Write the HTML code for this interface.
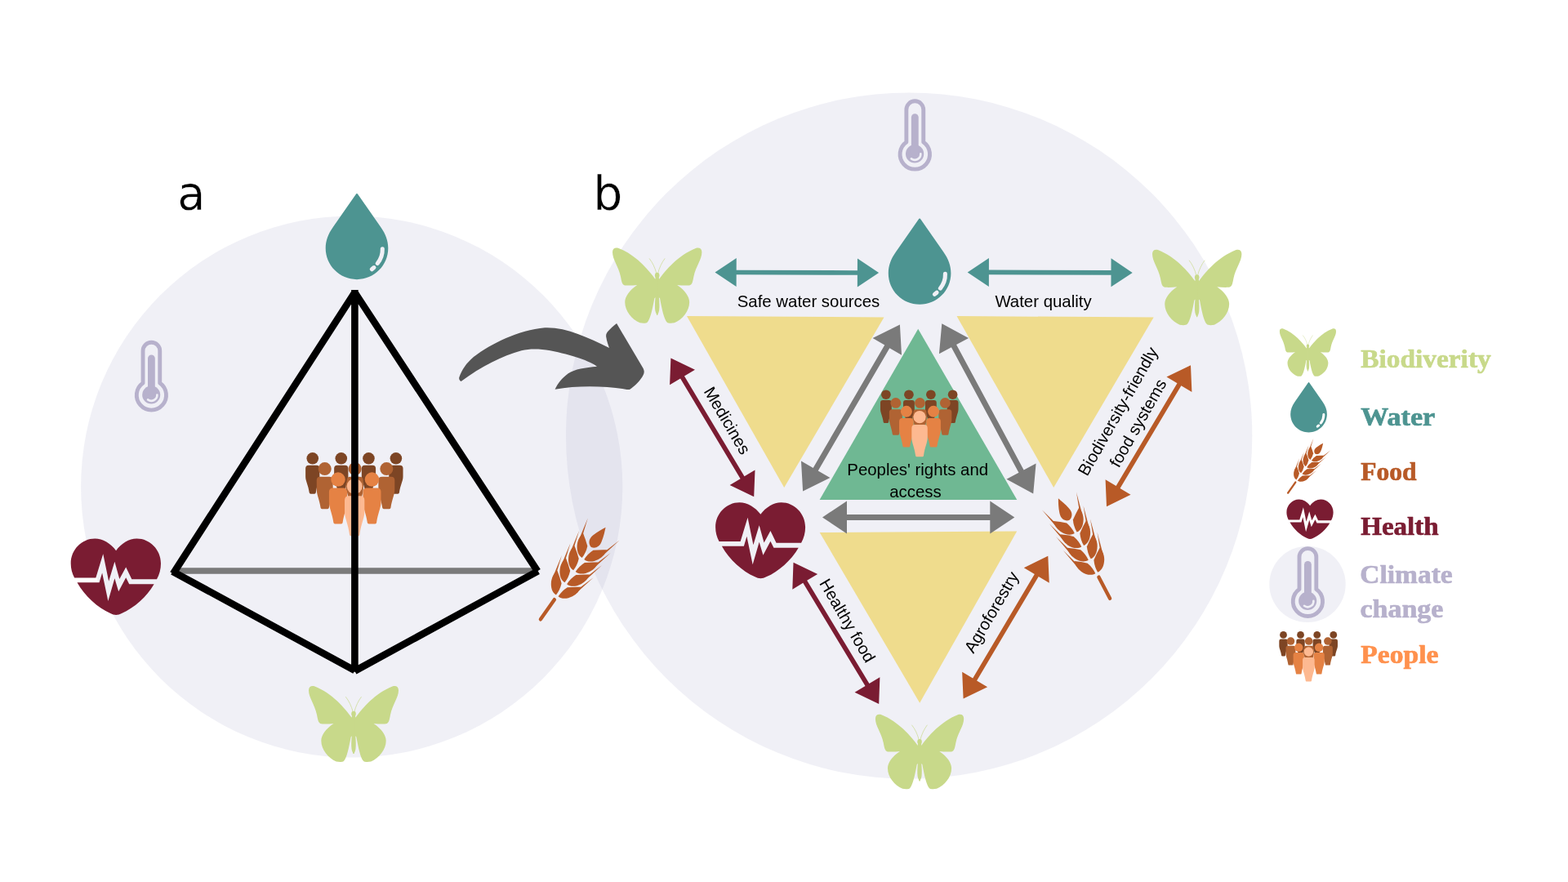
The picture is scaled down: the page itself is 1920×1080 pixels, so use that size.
<!DOCTYPE html>
<html lang="en"><head><meta charset="utf-8"><title>Nexus diagram</title>
<style>html,body{margin:0;padding:0;background:#fff;width:1920px;height:1080px;overflow:hidden}svg{display:block;will-change:transform}</style></head><body>
<svg width="1920" height="1080" viewBox="0 0 1920 1080">
<rect width="1920" height="1080" fill="#fff"/>
<circle cx="430.7" cy="596" r="331.6" fill="#b4b4d0" fill-opacity="0.2"/>
<circle cx="1113.15" cy="533.7" r="420.15" fill="#b4b4d0" fill-opacity="0.2"/>
<g transform="translate(217.2,257) scale(0.967,1)"><text x="0" y="0" style="text-rendering:geometricPrecision" font-family="'DejaVu Sans', sans-serif" font-size="57.5" fill="#000" stroke="#fff" stroke-width="0.45">a</text></g>
<g transform="translate(726.28,257) scale(0.98,1)"><text x="0" y="0" style="text-rendering:geometricPrecision" font-family="'DejaVu Sans', sans-serif" font-size="58" fill="#000" stroke="#fff" stroke-width="0.4">b</text></g>
<g transform="translate(398.7,237) scale(0.12044)"><path fill="#4d9491" d="M318,0 C322,0 326,4 330,10 L560,340 C610,410 636,480 636,555 C636,731 494,873 318,873 C142,873 0,731 0,555 C0,480 26,410 76,340 L306,10 C310,4 314,0 318,0 Z"/><path fill="none" stroke="#f0f0f6" stroke-width="42" stroke-linecap="round" d="M578,562 C580,620 560,670 528,710"/><path fill="none" stroke="#f0f0f6" stroke-width="42" stroke-linecap="round" d="M492,752 L470,770"/></g>
<g transform="translate(164.87,416.7) scale(0.10116)"><path fill="none" stroke="#b7b1cc" stroke-width="48" stroke-linejoin="round" d="M100.5,518 L100.5,128 A102.5,102.5 0 0 1 305.5,128 L305.5,518 A179,179 0 1 1 100.5,518 Z"/><circle cx="201" cy="660" r="109" fill="#b7b1cc"/><path fill="none" stroke="#b7b1cc" stroke-width="87" stroke-linecap="round" d="M203,220 L203,640"/><path fill="none" stroke="#f0f0f6" stroke-width="26" stroke-linecap="round" d="M272,660 A70,70 0 0 1 160,718"/></g>
<g transform="translate(374,554) scale(0.12158) translate(-133,-128)"><path fill="#7d4524" d="M134,289.24 Q134,258 165.24,258 L244.76,258 Q276,258 276,289.24 L276,372.8 C276,415.85 247.9,458.9 238,533 Q236,545 224,545 L186,545 Q174,545 172,533 C162.1,458.9 134,415.85 134,372.8 Z"/><circle cx="205" cy="188" r="60" fill="#7d4524"/><path fill="#7d4524" d="M422,289.24 Q422,258 453.24,258 L532.76,258 Q564,258 564,289.24 L564,372.8 C564,415.85 535.9,458.9 526,533 Q524,545 512,545 L474,545 Q462,545 460,533 C450.1,458.9 422,415.85 422,372.8 Z"/><circle cx="493" cy="188" r="60" fill="#7d4524"/><path fill="#7d4524" d="M699,289.24 Q699,258 730.24,258 L809.76,258 Q841,258 841,289.24 L841,372.8 C841,415.85 812.9,458.9 803,533 Q801,545 789,545 L751,545 Q739,545 737,533 C727.1,458.9 699,415.85 699,372.8 Z"/><circle cx="770" cy="188" r="60" fill="#7d4524"/><path fill="#7d4524" d="M974,289.24 Q974,258 1005.24,258 L1084.76,258 Q1116,258 1116,289.24 L1116,372.8 C1116,415.85 1087.9,458.9 1078,533 Q1076,545 1064,545 L1026,545 Q1014,545 1012,533 C1002.1,458.9 974,415.85 974,372.8 Z"/><circle cx="1045" cy="188" r="60" fill="#7d4524"/><path fill="#b06333" d="M246,408.08 Q246,372 282.08,372 L373.92,372 Q410,372 410,408.08 L410,502 C410,550.75 382.6,599.5 370,685 Q368,697 356,697 L300,697 Q288,697 286,685 C273.4,599.5 246,550.75 246,502 Z"/><circle cx="328" cy="293" r="66" fill="#b06333"/><path fill="#b06333" d="M550,408.08 Q550,372 586.08,372 L677.92,372 Q714,372 714,408.08 L714,502 C714,550.75 686.6,599.5 674,685 Q672,697 660,697 L604,697 Q592,697 590,685 C577.4,599.5 550,550.75 550,502 Z"/><circle cx="632" cy="293" r="66" fill="#b06333"/><path fill="#b06333" d="M868,408.08 Q868,372 904.08,372 L995.92,372 Q1032,372 1032,408.08 L1032,502 C1032,550.75 1004.6,599.5 992,685 Q990,697 978,697 L922,697 Q910,697 908,685 C895.4,599.5 868,550.75 868,502 Z"/><circle cx="950" cy="293" r="66" fill="#b06333"/><path fill="#e58244" d="M371,525.04 Q371,485 411.04,485 L512.96,485 Q553,485 553,525.04 L553,630.2 C553,684.65 521.8,739.1 508,836 Q506,848 494,848 L430,848 Q418,848 416,836 C402.2,739.1 371,684.65 371,630.2 Z"/><circle cx="462" cy="400" r="72" fill="#e58244"/><path fill="#e58244" d="M712,525.04 Q712,485 752.04,485 L853.96,485 Q894,485 894,525.04 L894,630.2 C894,684.65 862.8,739.1 849,836 Q847,848 835,848 L771,848 Q759,848 757,836 C743.2,739.1 712,684.65 712,630.2 Z"/><circle cx="803" cy="400" r="72" fill="#e58244"/><path fill="#fdb991" d="M528,609 Q528,565 572,565 L684,565 Q728,565 728,609 L728,727 C728,787.75 693,848.5 678,958 Q676,970 664,970 L592,970 Q580,970 578,958 C563,848.5 528,787.75 528,727 Z"/><circle cx="628" cy="470" r="90" fill="#b06333"/><circle cx="628" cy="470" r="78" fill="#fdb991"/></g>
<path d="M214,699 L657,699" stroke="#7a7a7a" stroke-width="7.5" fill="none"/>
<path d="M434.4,358 L211.9,702.6 M211.3,699.7 L434.4,821 M434.4,358 L658.2,699.3 M658.8,699.3 L434.4,821.6 M434.4,355 L434.4,822.8" stroke="#000" stroke-width="8.6" fill="none"/>
<g transform="translate(86.7,659.6) scale(0.11141) translate(-100,-137)" fill="#7a1c32"><path d="M140,567 L375,567 L455,305 L517,605 L582,390 L635,580 L706,450 L770,583 L1045,583 C1075,530 1090,470 1090,410 C1090,260 970,137 825,137 C740,137 655,190 597,268 C540,190 450,137 365,137 C220,137 100,260 100,410 C100,470 115,520 140,567 Z"/><path d="M170,618 L413,618 L445,512 L510,822 L582,573 L625,718 L706,565 L742,636 L1015,636 C935,775 795,898 660,957 C620,980 575,980 535,957 C395,893 255,770 170,618 Z"/></g>
<g transform="translate(660.8,760) rotate(35) scale(1,1)" fill="#b85a27"><path d="M0,-2 L0,-31.5" stroke="#b85a27" stroke-width="4.4" stroke-linecap="round" fill="none"/><path d="M-1.6,-37.4 C-7.16,-36.83 -12.5,-41.15 -15.82,-47.33 C-18.61,-52.66 -18.93,-58.38 -17.7,-62.8 Q-10.34,-57.91 -4.35,-52.94 Q-1.19,-45.35 -1.6,-37.4 Z"/><path d="M-16.96,-51.17 L-23.6,-81 L-17.39,-61.93 Z"/><path d="M1.6,-37.4 C7.16,-36.83 12.5,-41.15 15.82,-47.33 C18.61,-52.66 18.93,-58.38 17.7,-62.8 Q10.34,-57.91 4.35,-52.94 Q1.19,-45.35 1.6,-37.4 Z"/><path d="M16.96,-51.17 L23.6,-81 L17.39,-61.93 Z"/><path d="M-1.6,-55.85 C-7.16,-55.28 -12.5,-59.6 -15.82,-65.78 C-18.61,-71.11 -18.93,-76.83 -17.7,-81.25 Q-10.34,-76.36 -4.35,-71.39 Q-1.19,-63.8 -1.6,-55.85 Z"/><path d="M-16.96,-69.62 L-23.6,-99.45 L-17.39,-80.38 Z"/><path d="M1.6,-55.85 C7.16,-55.28 12.5,-59.6 15.82,-65.78 C18.61,-71.11 18.93,-76.83 17.7,-81.25 Q10.34,-76.36 4.35,-71.39 Q1.19,-63.8 1.6,-55.85 Z"/><path d="M16.96,-69.62 L23.6,-99.45 L17.39,-80.38 Z"/><path d="M-1.6,-74.3 C-7.16,-73.73 -12.5,-78.05 -15.82,-84.23 C-18.61,-89.56 -18.93,-95.28 -17.7,-99.7 Q-10.34,-94.81 -4.35,-89.84 Q-1.19,-82.25 -1.6,-74.3 Z"/><path d="M-16.96,-88.07 L-23.6,-117.9 L-17.39,-98.83 Z"/><path d="M1.6,-74.3 C7.16,-73.73 12.5,-78.05 15.82,-84.23 C18.61,-89.56 18.93,-95.28 17.7,-99.7 Q10.34,-94.81 4.35,-89.84 Q1.19,-82.25 1.6,-74.3 Z"/><path d="M16.96,-88.07 L23.6,-117.9 L17.39,-98.83 Z"/><path d="M-1.6,-92.75 C-7.16,-92.18 -12.5,-96.5 -15.82,-102.68 C-18.61,-108.01 -18.93,-113.73 -17.7,-118.15 Q-10.34,-113.26 -4.35,-108.29 Q-1.19,-100.7 -1.6,-92.75 Z"/><path d="M-16.96,-106.52 L-23.6,-136.35 L-17.39,-117.28 Z"/><path d="M1.6,-92.75 C7.16,-92.18 12.5,-96.5 15.82,-102.68 C18.61,-108.01 18.93,-113.73 17.7,-118.15 Q10.34,-113.26 4.35,-108.29 Q1.19,-100.7 1.6,-92.75 Z"/><path d="M16.96,-106.52 L23.6,-136.35 L17.39,-117.28 Z"/><path d="M0,-110 C-5,-111 -8.5,-116 -6.5,-123 C-4.5,-130 -2,-135 0.6,-140 C2.5,-135 5,-130 6.5,-123 C8.5,-116 5,-111 0,-110 Z"/></g>
<g transform="translate(379.01,840) scale(0.11179)" fill="#c8d98a"><path d="M478,345 L505,345 C575,250 715,80 913,3 C950,-5 975,10 975,48 C975,130 910,200 885,318 C872,390 865,416 823,416 C780,418 740,414 703,411 C790,470 838,540 838,600 C838,700 760,790 673,828 C640,835 603,835 590,820 C560,790 535,680 513,558 L503,548 C508,600 510,650 505,690 C500,715 490,735 483,743 L478,743 Z"/><g transform="translate(966,0) scale(-1,1)"><path d="M478,345 L505,345 C575,250 715,80 913,3 C950,-5 975,10 975,48 C975,130 910,200 885,318 C872,390 865,416 823,416 C780,418 740,414 703,411 C790,470 838,540 838,600 C838,700 760,790 673,828 C640,835 603,835 590,820 C560,790 535,680 513,558 L503,548 C508,600 510,650 505,690 C500,715 490,735 483,743 L478,743 Z"/></g><ellipse cx="483" cy="305" rx="25" ry="30"/><path d="M470,290 L496,290 L505,350 L461,350 Z"/><path d="M476,285 C460,220 430,160 398,121 M490,285 C506,220 536,160 566,121" fill="none" stroke="#c8d98a" stroke-width="6" stroke-linecap="round"/></g>
<g transform="translate(550,385) scale(0.130208)"><path fill="#555555" d="M112,630 C95,620 90,605 95,590 C120,520 160,460 230,400 C400,270 650,150 900,125 C1100,118 1300,215 1505,315 C1495,285 1482,250 1477,215 C1472,190 1480,175 1495,158 C1520,130 1545,108 1575,85 L1820,500 C1835,525 1838,545 1825,570 C1800,620 1750,670 1700,705 C1690,708 1670,706 1650,702 C1450,672 1200,668 995,705 C1020,650 1060,600 1120,555 C1180,515 1280,500 1390,490 C1330,440 1150,380 950,340 C850,322 760,320 680,340 C500,390 300,490 112,630 Z"/></g>
<g transform="translate(1099.62,121.2) scale(0.10185)"><path fill="none" stroke="#b7b1cc" stroke-width="48" stroke-linejoin="round" d="M100.5,518 L100.5,128 A102.5,102.5 0 0 1 305.5,128 L305.5,518 A179,179 0 1 1 100.5,518 Z"/><circle cx="201" cy="660" r="109" fill="#b7b1cc"/><path fill="none" stroke="#b7b1cc" stroke-width="87" stroke-linecap="round" d="M203,220 L203,640"/><path fill="none" stroke="#f0f0f6" stroke-width="26" stroke-linecap="round" d="M272,660 A70,70 0 0 1 160,718"/></g>
<g transform="translate(751,303.3) scale(0.11118)" fill="#c8d98a"><path d="M478,345 L505,345 C575,250 715,80 913,3 C950,-5 975,10 975,48 C975,130 910,200 885,318 C872,390 865,416 823,416 C780,418 740,414 703,411 C790,470 838,540 838,600 C838,700 760,790 673,828 C640,835 603,835 590,820 C560,790 535,680 513,558 L503,548 C508,600 510,650 505,690 C500,715 490,735 483,743 L478,743 Z"/><g transform="translate(966,0) scale(-1,1)"><path d="M478,345 L505,345 C575,250 715,80 913,3 C950,-5 975,10 975,48 C975,130 910,200 885,318 C872,390 865,416 823,416 C780,418 740,414 703,411 C790,470 838,540 838,600 C838,700 760,790 673,828 C640,835 603,835 590,820 C560,790 535,680 513,558 L503,548 C508,600 510,650 505,690 C500,715 490,735 483,743 L478,743 Z"/></g><ellipse cx="483" cy="305" rx="25" ry="30"/><path d="M470,290 L496,290 L505,350 L461,350 Z"/><path d="M476,285 C460,220 430,160 398,121 M490,285 C506,220 536,160 566,121" fill="none" stroke="#c8d98a" stroke-width="6" stroke-linecap="round"/></g>
<g transform="translate(1412,305.6) scale(0.11118)" fill="#c8d98a"><path d="M478,345 L505,345 C575,250 715,80 913,3 C950,-5 975,10 975,48 C975,130 910,200 885,318 C872,390 865,416 823,416 C780,418 740,414 703,411 C790,470 838,540 838,600 C838,700 760,790 673,828 C640,835 603,835 590,820 C560,790 535,680 513,558 L503,548 C508,600 510,650 505,690 C500,715 490,735 483,743 L478,743 Z"/><g transform="translate(966,0) scale(-1,1)"><path d="M478,345 L505,345 C575,250 715,80 913,3 C950,-5 975,10 975,48 C975,130 910,200 885,318 C872,390 865,416 823,416 C780,418 740,414 703,411 C790,470 838,540 838,600 C838,700 760,790 673,828 C640,835 603,835 590,820 C560,790 535,680 513,558 L503,548 C508,600 510,650 505,690 C500,715 490,735 483,743 L478,743 Z"/></g><ellipse cx="483" cy="305" rx="25" ry="30"/><path d="M470,290 L496,290 L505,350 L461,350 Z"/><path d="M476,285 C460,220 430,160 398,121 M490,285 C506,220 536,160 566,121" fill="none" stroke="#c8d98a" stroke-width="6" stroke-linecap="round"/></g>
<g transform="translate(1072.89,874.7) scale(0.11006)" fill="#c8d98a"><path d="M478,345 L505,345 C575,250 715,80 913,3 C950,-5 975,10 975,48 C975,130 910,200 885,318 C872,390 865,416 823,416 C780,418 740,414 703,411 C790,470 838,540 838,600 C838,700 760,790 673,828 C640,835 603,835 590,820 C560,790 535,680 513,558 L503,548 C508,600 510,650 505,690 C500,715 490,735 483,743 L478,743 Z"/><g transform="translate(966,0) scale(-1,1)"><path d="M478,345 L505,345 C575,250 715,80 913,3 C950,-5 975,10 975,48 C975,130 910,200 885,318 C872,390 865,416 823,416 C780,418 740,414 703,411 C790,470 838,540 838,600 C838,700 760,790 673,828 C640,835 603,835 590,820 C560,790 535,680 513,558 L503,548 C508,600 510,650 505,690 C500,715 490,735 483,743 L478,743 Z"/></g><ellipse cx="483" cy="305" rx="25" ry="30"/><path d="M470,290 L496,290 L505,350 L461,350 Z"/><path d="M476,285 C460,220 430,160 398,121 M490,285 C506,220 536,160 566,121" fill="none" stroke="#c8d98a" stroke-width="6" stroke-linecap="round"/></g>
<g transform="translate(1087.8,267.6) scale(0.12044)"><path fill="#4d9491" d="M318,0 C322,0 326,4 330,10 L560,340 C610,410 636,480 636,555 C636,731 494,873 318,873 C142,873 0,731 0,555 C0,480 26,410 76,340 L306,10 C310,4 314,0 318,0 Z"/><path fill="none" stroke="#f0f0f6" stroke-width="42" stroke-linecap="round" d="M578,562 C580,620 560,670 528,710"/><path fill="none" stroke="#f0f0f6" stroke-width="42" stroke-linecap="round" d="M492,752 L470,770"/></g>
<polygon fill="#4d9491" points="875.5,333.4 901.64,350.99 901.69,336.34 1049.89,336.86 1049.84,351.51 1076.1,334.1 1049.96,316.51 1049.91,331.16 901.71,330.64 901.76,315.99"/>
<polygon fill="#4d9491" points="1184.7,333.4 1210.86,350.96 1210.89,336.31 1360.49,336.69 1360.46,351.34 1386.7,333.9 1360.54,316.34 1360.51,330.99 1210.91,330.61 1210.94,315.96"/>
<text x="990" y="375.6" font-family="'Liberation Sans', sans-serif" font-size="20.4" font-weight="normal" fill="#000" text-anchor="middle">Safe water sources</text>
<text x="1277.5" y="375.6" font-family="'Liberation Sans', sans-serif" font-size="20.4" font-weight="normal" fill="#000" text-anchor="middle">Water quality</text>
<polygon fill="#efdc8d" points="841,387 1082.5,388.5 960.2,597"/>
<polygon fill="#efdc8d" points="1171.5,387 1412.7,388.5 1290.2,597"/>
<polygon fill="#efdc8d" points="1003.7,652 1245.2,650.4 1126.2,860.7"/>
<polygon fill="#6fb893" points="1124.2,402.7 1245.3,611.9 1003.6,611.9"/>
<g transform="translate(1077.9,477.4) scale(0.09726) translate(-133,-128)"><path fill="#7d4524" d="M134,289.24 Q134,258 165.24,258 L244.76,258 Q276,258 276,289.24 L276,372.8 C276,415.85 247.9,458.9 238,533 Q236,545 224,545 L186,545 Q174,545 172,533 C162.1,458.9 134,415.85 134,372.8 Z"/><circle cx="205" cy="188" r="60" fill="#7d4524"/><path fill="#7d4524" d="M422,289.24 Q422,258 453.24,258 L532.76,258 Q564,258 564,289.24 L564,372.8 C564,415.85 535.9,458.9 526,533 Q524,545 512,545 L474,545 Q462,545 460,533 C450.1,458.9 422,415.85 422,372.8 Z"/><circle cx="493" cy="188" r="60" fill="#7d4524"/><path fill="#7d4524" d="M699,289.24 Q699,258 730.24,258 L809.76,258 Q841,258 841,289.24 L841,372.8 C841,415.85 812.9,458.9 803,533 Q801,545 789,545 L751,545 Q739,545 737,533 C727.1,458.9 699,415.85 699,372.8 Z"/><circle cx="770" cy="188" r="60" fill="#7d4524"/><path fill="#7d4524" d="M974,289.24 Q974,258 1005.24,258 L1084.76,258 Q1116,258 1116,289.24 L1116,372.8 C1116,415.85 1087.9,458.9 1078,533 Q1076,545 1064,545 L1026,545 Q1014,545 1012,533 C1002.1,458.9 974,415.85 974,372.8 Z"/><circle cx="1045" cy="188" r="60" fill="#7d4524"/><path fill="#b06333" d="M246,408.08 Q246,372 282.08,372 L373.92,372 Q410,372 410,408.08 L410,502 C410,550.75 382.6,599.5 370,685 Q368,697 356,697 L300,697 Q288,697 286,685 C273.4,599.5 246,550.75 246,502 Z"/><circle cx="328" cy="293" r="66" fill="#b06333"/><path fill="#b06333" d="M550,408.08 Q550,372 586.08,372 L677.92,372 Q714,372 714,408.08 L714,502 C714,550.75 686.6,599.5 674,685 Q672,697 660,697 L604,697 Q592,697 590,685 C577.4,599.5 550,550.75 550,502 Z"/><circle cx="632" cy="293" r="66" fill="#b06333"/><path fill="#b06333" d="M868,408.08 Q868,372 904.08,372 L995.92,372 Q1032,372 1032,408.08 L1032,502 C1032,550.75 1004.6,599.5 992,685 Q990,697 978,697 L922,697 Q910,697 908,685 C895.4,599.5 868,550.75 868,502 Z"/><circle cx="950" cy="293" r="66" fill="#b06333"/><path fill="#e58244" d="M371,525.04 Q371,485 411.04,485 L512.96,485 Q553,485 553,525.04 L553,630.2 C553,684.65 521.8,739.1 508,836 Q506,848 494,848 L430,848 Q418,848 416,836 C402.2,739.1 371,684.65 371,630.2 Z"/><circle cx="462" cy="400" r="72" fill="#e58244"/><path fill="#e58244" d="M712,525.04 Q712,485 752.04,485 L853.96,485 Q894,485 894,525.04 L894,630.2 C894,684.65 862.8,739.1 849,836 Q847,848 835,848 L771,848 Q759,848 757,836 C743.2,739.1 712,684.65 712,630.2 Z"/><circle cx="803" cy="400" r="72" fill="#e58244"/><path fill="#fdb991" d="M528,609 Q528,565 572,565 L684,565 Q728,565 728,609 L728,727 C728,787.75 693,848.5 678,958 Q676,970 664,970 L592,970 Q580,970 578,958 C563,848.5 528,787.75 528,727 Z"/><circle cx="628" cy="470" r="90" fill="#b06333"/><circle cx="628" cy="470" r="78" fill="#fdb991"/></g>
<text x="1123.7" y="582.3" font-family="'Liberation Sans', sans-serif" font-size="20.4" font-weight="normal" fill="#000" text-anchor="middle">Peoples' rights and</text>
<text x="1121" y="609.2" font-family="'Liberation Sans', sans-serif" font-size="20.4" font-weight="normal" fill="#000" text-anchor="middle">access</text>
<polygon fill="#7a7a7a" points="1101.9,397.6 1068.58,414.07 1083.27,422.62 995.68,572.95 980.99,564.39 983.1,601.5 1016.42,585.03 1001.73,576.48 1089.32,426.15 1104.01,434.71"/>
<polygon fill="#7a7a7a" points="1153.3,396.3 1149.93,433.31 1164.9,425.26 1247.44,578.75 1232.46,586.81 1265.2,604.4 1268.57,567.39 1253.6,575.44 1171.06,421.95 1186.04,413.89"/>
<polygon fill="#7a7a7a" points="1007,633.4 1037,653.4 1037,636.9 1212.3,636.9 1212.3,653.4 1242.3,633.4 1212.3,613.4 1212.3,629.9 1037,629.9 1037,613.4"/>
<polygon fill="#7a1c32" points="821.4,438.5 820.1,471.34 833.1,463.55 906.62,586.18 893.62,593.97 923.2,608.3 924.5,575.46 911.5,583.25 837.98,460.62 850.98,452.83"/>
<polygon fill="#7a1c32" points="971.5,688.8 970.32,721.65 983.29,713.81 1059.53,839.94 1046.57,847.78 1076.2,862 1077.38,829.15 1064.41,836.99 988.17,710.86 1001.13,703.02"/>
<polygon fill="#b85a27" points="1283.3,680.8 1253.79,695.27 1266.82,703 1191.18,830.49 1178.15,822.76 1179.6,855.6 1209.11,841.13 1196.08,833.4 1271.72,705.91 1284.75,713.64"/>
<polygon fill="#b85a27" points="1458,447.2 1428.47,461.62 1441.48,469.37 1366.62,595.11 1353.6,587.36 1355,620.2 1384.53,605.78 1371.52,598.03 1446.38,472.29 1459.4,480.04"/>
<text x="884.5" y="518.5" font-family="'Liberation Sans', sans-serif" font-size="20.4" font-weight="normal" fill="#000" text-anchor="middle" transform="rotate(59.5 884.5 518.5)">Medicines</text>
<text x="1031.6" y="763.5" font-family="'Liberation Sans', sans-serif" font-size="20.4" font-weight="normal" fill="#000" text-anchor="middle" transform="rotate(59.7 1031.6 763.5)">Healthy food</text>
<text x="1220.1" y="753.05" font-family="'Liberation Sans', sans-serif" font-size="20.4" font-weight="normal" fill="#000" text-anchor="middle" transform="rotate(-59.7 1220.1 753.05)">Agroforestry</text>
<text x="1374.9" y="507.1" font-family="'Liberation Sans', sans-serif" font-size="20.4" font-weight="normal" fill="#000" text-anchor="middle" transform="rotate(-60.5 1374.9 507.1)">Biodiversity-friendly</text>
<text x="1399.5" y="521.5" font-family="'Liberation Sans', sans-serif" font-size="20.4" font-weight="normal" fill="#000" text-anchor="middle" transform="rotate(-60.5 1399.5 521.5)">food systems</text>
<g transform="translate(876.1,615.2) scale(0.11111) translate(-100,-137)" fill="#7a1c32"><path d="M140,567 L375,567 L455,305 L517,605 L582,390 L635,580 L706,450 L770,583 L1045,583 C1075,530 1090,470 1090,410 C1090,260 970,137 825,137 C740,137 655,190 597,268 C540,190 450,137 365,137 C220,137 100,260 100,410 C100,470 115,520 140,567 Z"/><path d="M170,618 L413,618 L445,512 L510,822 L582,573 L625,718 L706,565 L742,636 L1015,636 C935,775 795,898 660,957 C620,980 575,980 535,957 C395,893 255,770 170,618 Z"/></g>
<g transform="translate(1360,734.6) rotate(-27.5) scale(1,1)" fill="#b85a27"><path d="M0,-2 L0,-31.5" stroke="#b85a27" stroke-width="4.4" stroke-linecap="round" fill="none"/><path d="M-1.6,-37.4 C-7.16,-36.83 -12.5,-41.15 -15.82,-47.33 C-18.61,-52.66 -18.93,-58.38 -17.7,-62.8 Q-10.34,-57.91 -4.35,-52.94 Q-1.19,-45.35 -1.6,-37.4 Z"/><path d="M-16.96,-51.17 L-23.6,-81 L-17.39,-61.93 Z"/><path d="M1.6,-37.4 C7.16,-36.83 12.5,-41.15 15.82,-47.33 C18.61,-52.66 18.93,-58.38 17.7,-62.8 Q10.34,-57.91 4.35,-52.94 Q1.19,-45.35 1.6,-37.4 Z"/><path d="M16.96,-51.17 L23.6,-81 L17.39,-61.93 Z"/><path d="M-1.6,-55.85 C-7.16,-55.28 -12.5,-59.6 -15.82,-65.78 C-18.61,-71.11 -18.93,-76.83 -17.7,-81.25 Q-10.34,-76.36 -4.35,-71.39 Q-1.19,-63.8 -1.6,-55.85 Z"/><path d="M-16.96,-69.62 L-23.6,-99.45 L-17.39,-80.38 Z"/><path d="M1.6,-55.85 C7.16,-55.28 12.5,-59.6 15.82,-65.78 C18.61,-71.11 18.93,-76.83 17.7,-81.25 Q10.34,-76.36 4.35,-71.39 Q1.19,-63.8 1.6,-55.85 Z"/><path d="M16.96,-69.62 L23.6,-99.45 L17.39,-80.38 Z"/><path d="M-1.6,-74.3 C-7.16,-73.73 -12.5,-78.05 -15.82,-84.23 C-18.61,-89.56 -18.93,-95.28 -17.7,-99.7 Q-10.34,-94.81 -4.35,-89.84 Q-1.19,-82.25 -1.6,-74.3 Z"/><path d="M-16.96,-88.07 L-23.6,-117.9 L-17.39,-98.83 Z"/><path d="M1.6,-74.3 C7.16,-73.73 12.5,-78.05 15.82,-84.23 C18.61,-89.56 18.93,-95.28 17.7,-99.7 Q10.34,-94.81 4.35,-89.84 Q1.19,-82.25 1.6,-74.3 Z"/><path d="M16.96,-88.07 L23.6,-117.9 L17.39,-98.83 Z"/><path d="M-1.6,-92.75 C-7.16,-92.18 -12.5,-96.5 -15.82,-102.68 C-18.61,-108.01 -18.93,-113.73 -17.7,-118.15 Q-10.34,-113.26 -4.35,-108.29 Q-1.19,-100.7 -1.6,-92.75 Z"/><path d="M-16.96,-106.52 L-23.6,-136.35 L-17.39,-117.28 Z"/><path d="M1.6,-92.75 C7.16,-92.18 12.5,-96.5 15.82,-102.68 C18.61,-108.01 18.93,-113.73 17.7,-118.15 Q10.34,-113.26 4.35,-108.29 Q1.19,-100.7 1.6,-92.75 Z"/><path d="M16.96,-106.52 L23.6,-136.35 L17.39,-117.28 Z"/><path d="M0,-110 C-5,-111 -8.5,-116 -6.5,-123 C-4.5,-130 -2,-135 0.6,-140 C2.5,-135 5,-130 6.5,-123 C8.5,-116 5,-111 0,-110 Z"/></g>
<g transform="translate(1567.53,402.3) scale(0.07022)" fill="#c8d98a"><path d="M478,345 L505,345 C575,250 715,80 913,3 C950,-5 975,10 975,48 C975,130 910,200 885,318 C872,390 865,416 823,416 C780,418 740,414 703,411 C790,470 838,540 838,600 C838,700 760,790 673,828 C640,835 603,835 590,820 C560,790 535,680 513,558 L503,548 C508,600 510,650 505,690 C500,715 490,735 483,743 L478,743 Z"/><g transform="translate(966,0) scale(-1,1)"><path d="M478,345 L505,345 C575,250 715,80 913,3 C950,-5 975,10 975,48 C975,130 910,200 885,318 C872,390 865,416 823,416 C780,418 740,414 703,411 C790,470 838,540 838,600 C838,700 760,790 673,828 C640,835 603,835 590,820 C560,790 535,680 513,558 L503,548 C508,600 510,650 505,690 C500,715 490,735 483,743 L478,743 Z"/></g><ellipse cx="483" cy="305" rx="25" ry="30"/><path d="M470,290 L496,290 L505,350 L461,350 Z"/><path d="M476,285 C460,220 430,160 398,121 M490,285 C506,220 536,160 566,121" fill="none" stroke="#c8d98a" stroke-width="6" stroke-linecap="round"/></g>
<g transform="translate(1580.2,468.1) scale(0.07028)"><path fill="#4d9491" d="M318,0 C322,0 326,4 330,10 L560,340 C610,410 636,480 636,555 C636,731 494,873 318,873 C142,873 0,731 0,555 C0,480 26,410 76,340 L306,10 C310,4 314,0 318,0 Z"/><path fill="none" stroke="#fff" stroke-width="42" stroke-linecap="round" d="M578,562 C580,620 560,670 528,710"/><path fill="none" stroke="#fff" stroke-width="42" stroke-linecap="round" d="M492,752 L470,770"/></g>
<g transform="translate(1576.5,604.5) rotate(35) scale(0.54,0.54)" fill="#b85a27"><path d="M0,-2 L0,-31.5" stroke="#b85a27" stroke-width="4.4" stroke-linecap="round" fill="none"/><path d="M-1.6,-37.4 C-7.16,-36.83 -12.5,-41.15 -15.82,-47.33 C-18.61,-52.66 -18.93,-58.38 -17.7,-62.8 Q-10.34,-57.91 -4.35,-52.94 Q-1.19,-45.35 -1.6,-37.4 Z"/><path d="M-16.96,-51.17 L-23.6,-81 L-17.39,-61.93 Z"/><path d="M1.6,-37.4 C7.16,-36.83 12.5,-41.15 15.82,-47.33 C18.61,-52.66 18.93,-58.38 17.7,-62.8 Q10.34,-57.91 4.35,-52.94 Q1.19,-45.35 1.6,-37.4 Z"/><path d="M16.96,-51.17 L23.6,-81 L17.39,-61.93 Z"/><path d="M-1.6,-55.85 C-7.16,-55.28 -12.5,-59.6 -15.82,-65.78 C-18.61,-71.11 -18.93,-76.83 -17.7,-81.25 Q-10.34,-76.36 -4.35,-71.39 Q-1.19,-63.8 -1.6,-55.85 Z"/><path d="M-16.96,-69.62 L-23.6,-99.45 L-17.39,-80.38 Z"/><path d="M1.6,-55.85 C7.16,-55.28 12.5,-59.6 15.82,-65.78 C18.61,-71.11 18.93,-76.83 17.7,-81.25 Q10.34,-76.36 4.35,-71.39 Q1.19,-63.8 1.6,-55.85 Z"/><path d="M16.96,-69.62 L23.6,-99.45 L17.39,-80.38 Z"/><path d="M-1.6,-74.3 C-7.16,-73.73 -12.5,-78.05 -15.82,-84.23 C-18.61,-89.56 -18.93,-95.28 -17.7,-99.7 Q-10.34,-94.81 -4.35,-89.84 Q-1.19,-82.25 -1.6,-74.3 Z"/><path d="M-16.96,-88.07 L-23.6,-117.9 L-17.39,-98.83 Z"/><path d="M1.6,-74.3 C7.16,-73.73 12.5,-78.05 15.82,-84.23 C18.61,-89.56 18.93,-95.28 17.7,-99.7 Q10.34,-94.81 4.35,-89.84 Q1.19,-82.25 1.6,-74.3 Z"/><path d="M16.96,-88.07 L23.6,-117.9 L17.39,-98.83 Z"/><path d="M-1.6,-92.75 C-7.16,-92.18 -12.5,-96.5 -15.82,-102.68 C-18.61,-108.01 -18.93,-113.73 -17.7,-118.15 Q-10.34,-113.26 -4.35,-108.29 Q-1.19,-100.7 -1.6,-92.75 Z"/><path d="M-16.96,-106.52 L-23.6,-136.35 L-17.39,-117.28 Z"/><path d="M1.6,-92.75 C7.16,-92.18 12.5,-96.5 15.82,-102.68 C18.61,-108.01 18.93,-113.73 17.7,-118.15 Q10.34,-113.26 4.35,-108.29 Q1.19,-100.7 1.6,-92.75 Z"/><path d="M16.96,-106.52 L23.6,-136.35 L17.39,-117.28 Z"/><path d="M0,-110 C-5,-111 -8.5,-116 -6.5,-123 C-4.5,-130 -2,-135 0.6,-140 C2.5,-135 5,-130 6.5,-123 C8.5,-116 5,-111 0,-110 Z"/></g>
<g transform="translate(1575.4,611.6) scale(0.05778) translate(-100,-137)" fill="#7a1c32"><path d="M140,567 L375,567 L455,305 L517,605 L582,390 L635,580 L706,450 L770,583 L1045,583 C1075,530 1090,470 1090,410 C1090,260 970,137 825,137 C740,137 655,190 597,268 C540,190 450,137 365,137 C220,137 100,260 100,410 C100,470 115,520 140,567 Z"/><path d="M170,618 L413,618 L445,512 L510,822 L582,573 L625,718 L706,565 L742,636 L1015,636 C935,775 795,898 660,957 C620,980 575,980 535,957 C395,893 255,770 170,618 Z"/></g>
<circle cx="1601" cy="715.4" r="46.7" fill="#b4b4d0" fill-opacity="0.2"/>
<g transform="translate(1580.82,669) scale(0.10139)"><path fill="none" stroke="#b7b1cc" stroke-width="48" stroke-linejoin="round" d="M100.5,518 L100.5,128 A102.5,102.5 0 0 1 305.5,128 L305.5,518 A179,179 0 1 1 100.5,518 Z"/><circle cx="201" cy="660" r="109" fill="#b7b1cc"/><path fill="none" stroke="#b7b1cc" stroke-width="87" stroke-linecap="round" d="M203,220 L203,640"/><path fill="none" stroke="#f0f0f6" stroke-width="26" stroke-linecap="round" d="M272,660 A70,70 0 0 1 160,718"/></g>
<g transform="translate(1566.25,773) scale(0.07295) translate(-133,-128)"><path fill="#7d4524" d="M134,289.24 Q134,258 165.24,258 L244.76,258 Q276,258 276,289.24 L276,372.8 C276,415.85 247.9,458.9 238,533 Q236,545 224,545 L186,545 Q174,545 172,533 C162.1,458.9 134,415.85 134,372.8 Z"/><circle cx="205" cy="188" r="60" fill="#7d4524"/><path fill="#7d4524" d="M422,289.24 Q422,258 453.24,258 L532.76,258 Q564,258 564,289.24 L564,372.8 C564,415.85 535.9,458.9 526,533 Q524,545 512,545 L474,545 Q462,545 460,533 C450.1,458.9 422,415.85 422,372.8 Z"/><circle cx="493" cy="188" r="60" fill="#7d4524"/><path fill="#7d4524" d="M699,289.24 Q699,258 730.24,258 L809.76,258 Q841,258 841,289.24 L841,372.8 C841,415.85 812.9,458.9 803,533 Q801,545 789,545 L751,545 Q739,545 737,533 C727.1,458.9 699,415.85 699,372.8 Z"/><circle cx="770" cy="188" r="60" fill="#7d4524"/><path fill="#7d4524" d="M974,289.24 Q974,258 1005.24,258 L1084.76,258 Q1116,258 1116,289.24 L1116,372.8 C1116,415.85 1087.9,458.9 1078,533 Q1076,545 1064,545 L1026,545 Q1014,545 1012,533 C1002.1,458.9 974,415.85 974,372.8 Z"/><circle cx="1045" cy="188" r="60" fill="#7d4524"/><path fill="#b06333" d="M246,408.08 Q246,372 282.08,372 L373.92,372 Q410,372 410,408.08 L410,502 C410,550.75 382.6,599.5 370,685 Q368,697 356,697 L300,697 Q288,697 286,685 C273.4,599.5 246,550.75 246,502 Z"/><circle cx="328" cy="293" r="66" fill="#b06333"/><path fill="#b06333" d="M550,408.08 Q550,372 586.08,372 L677.92,372 Q714,372 714,408.08 L714,502 C714,550.75 686.6,599.5 674,685 Q672,697 660,697 L604,697 Q592,697 590,685 C577.4,599.5 550,550.75 550,502 Z"/><circle cx="632" cy="293" r="66" fill="#b06333"/><path fill="#b06333" d="M868,408.08 Q868,372 904.08,372 L995.92,372 Q1032,372 1032,408.08 L1032,502 C1032,550.75 1004.6,599.5 992,685 Q990,697 978,697 L922,697 Q910,697 908,685 C895.4,599.5 868,550.75 868,502 Z"/><circle cx="950" cy="293" r="66" fill="#b06333"/><path fill="#e58244" d="M371,525.04 Q371,485 411.04,485 L512.96,485 Q553,485 553,525.04 L553,630.2 C553,684.65 521.8,739.1 508,836 Q506,848 494,848 L430,848 Q418,848 416,836 C402.2,739.1 371,684.65 371,630.2 Z"/><circle cx="462" cy="400" r="72" fill="#e58244"/><path fill="#e58244" d="M712,525.04 Q712,485 752.04,485 L853.96,485 Q894,485 894,525.04 L894,630.2 C894,684.65 862.8,739.1 849,836 Q847,848 835,848 L771,848 Q759,848 757,836 C743.2,739.1 712,684.65 712,630.2 Z"/><circle cx="803" cy="400" r="72" fill="#e58244"/><path fill="#fdb991" d="M528,609 Q528,565 572,565 L684,565 Q728,565 728,609 L728,727 C728,787.75 693,848.5 678,958 Q676,970 664,970 L592,970 Q580,970 578,958 C563,848.5 528,787.75 528,727 Z"/><circle cx="628" cy="470" r="90" fill="#b06333"/><circle cx="628" cy="470" r="78" fill="#fdb991"/></g>
<g transform="translate(1666.25,449.8) scale(1.0432,1)"><text x="0" y="0" font-family="'Liberation Serif', serif" font-size="32" font-weight="bold" fill="#c8d98a" stroke="#c8d98a" stroke-width="0.7" stroke-linejoin="round">Biodiverity</text></g>
<g transform="translate(1666.3,521.25) scale(1.0659,1)"><text x="0" y="0" font-family="'Liberation Serif', serif" font-size="32" font-weight="bold" fill="#4d9491" stroke="#4d9491" stroke-width="0.7" stroke-linejoin="round">Water</text></g>
<g transform="translate(1666.3,587.7) scale(0.9857,1)"><text x="0" y="0" font-family="'Liberation Serif', serif" font-size="32" font-weight="bold" fill="#b85a27" stroke="#b85a27" stroke-width="0.7" stroke-linejoin="round">Food</text></g>
<g transform="translate(1666.2,655.2) scale(1.0331,1)"><text x="0" y="0" font-family="'Liberation Serif', serif" font-size="32" font-weight="bold" fill="#7a1c32" stroke="#7a1c32" stroke-width="0.7" stroke-linejoin="round">Health</text></g>
<g transform="translate(1665.25,714) scale(1.0467,1)"><text x="0" y="0" font-family="'Liberation Serif', serif" font-size="32" font-weight="bold" fill="#b7b1cc" stroke="#b7b1cc" stroke-width="0.7" stroke-linejoin="round">Climate</text></g>
<g transform="translate(1665.51,755.8) scale(1.0603,1)"><text x="0" y="0" font-family="'Liberation Serif', serif" font-size="32" font-weight="bold" fill="#b7b1cc" stroke="#b7b1cc" stroke-width="0.7" stroke-linejoin="round">change</text></g>
<g transform="translate(1666.3,812) scale(1.0495,1)"><text x="0" y="0" font-family="'Liberation Serif', serif" font-size="32" font-weight="bold" fill="#ff914d" stroke="#ff914d" stroke-width="0.7" stroke-linejoin="round">People</text></g>
</svg></body></html>
